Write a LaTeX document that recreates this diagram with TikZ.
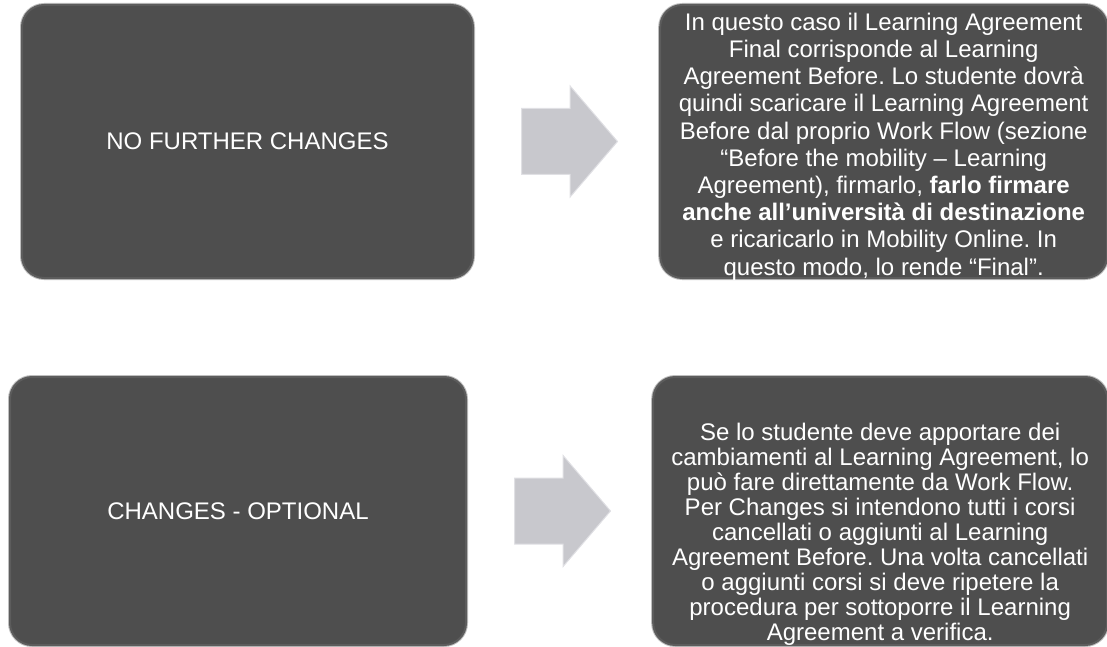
\documentclass[tikz,border=0pt]{standalone}
\usepackage{fontspec}
\setmainfont{Liberation Sans}
\usetikzlibrary{shapes.arrows, positioning}

\definecolor{boxfill}{RGB}{78,78,78}
\definecolor{boxedge}{RGB}{92,92,92}
\definecolor{arrowfill}{RGB}{200,200,205}
\definecolor{arrowedge}{RGB}{224,224,228}

\begin{document}
\frenchspacing
\begin{tikzpicture}[x=1pt, y=-1pt]
    \tikzstyle{darkbox} = [rectangle, rounded corners=22pt, draw=boxedge, line width=2pt, fill=boxfill, text=white, align=center, inner sep=0pt, font=\fontsize{24}{24.9}\selectfont, preaction={draw=black!25, line width=4pt}]
    \tikzstyle{boxtext} = [text=white, align=center, inner sep=0pt, font=\fontsize{24}{25}\selectfont]
    \tikzstyle{blockarrow} = [single arrow, minimum height=96pt, inner xsep=0pt, inner ysep=32.5pt, single arrow head extend=22.5pt, single arrow tip angle=99, fill=arrowfill, draw=arrowedge, line width=1pt]

    \useasboundingbox (0,0) rectangle (1107,647);

    % top row
    \node (nofurther) [darkbox, minimum width=451pt, minimum height=273pt] at (247.5,141.5) {NO FURTHER CHANGES};
    \node (arrowtop) [blockarrow, right=47pt of nofurther] {};
    \node (finaltext) [darkbox, minimum width=447pt, minimum height=273pt, right=41pt of arrowtop] {};
    \node (finalnote) [boxtext, font=\fontsize{24}{27.2}\selectfont] at ([yshift=-5pt]finaltext.center) {In questo caso il Learning Agreement\\ Final corrisponde al Learning\\ Agreement Before. Lo studente dovrà\\ quindi scaricare il Learning Agreement\\ Before dal proprio Work Flow (sezione\\ “Before the mobility – Learning\\ Agreement), firmarlo, \textbf{farlo firmare}\\ \textbf{anche all’università di destinazione}\\ e ricaricarlo in Mobility Online. In\\ questo modo, lo rende “Final”.};

    % bottom row
    \node (changes) [darkbox, minimum width=456pt, minimum height=268pt] at (238,511) {CHANGES - OPTIONAL};
    \node (arrowbottom) [blockarrow, right=47pt of changes] {};
    \node (changestext) [darkbox, minimum width=454pt, minimum height=268pt, right=41pt of arrowbottom] {};
    \node (changesnote) [boxtext] at ([yshift=-23pt]changestext.center) {Se lo studente deve apportare dei\\ cambiamenti al Learning Agreement, lo\\ può fare direttamente da Work Flow.\\ Per Changes si intendono tutti i corsi\\ cancellati o aggiunti al Learning\\ Agreement Before. Una volta cancellati\\ o aggiunti corsi si deve ripetere la\\ procedura per sottoporre il Learning\\ Agreement a verifica.};
\end{tikzpicture}
\end{document}
